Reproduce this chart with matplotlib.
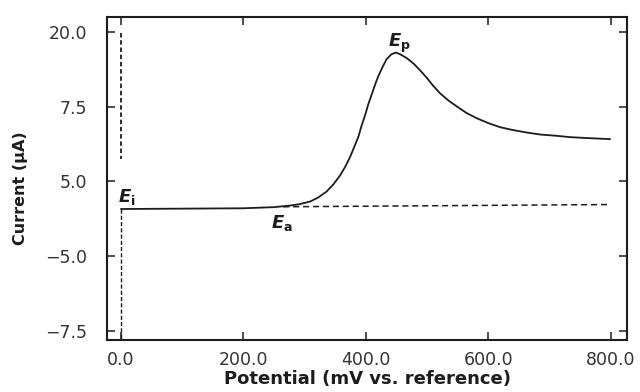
import matplotlib
matplotlib.use("Agg")
import matplotlib.pyplot as plt

# Linear sweep voltammogram: forward scan current vs. applied potential
potential_mv = [0, 100, 200, 250, 276, 292, 309, 322, 336, 347, 358, 366, 374,
                381, 388, 393, 399, 404, 410, 415, 420, 428, 434, 442, 449, 456,
                467, 478, 489, 500, 510, 521, 535, 549, 565, 581, 600, 619, 641,
                663, 685, 712, 734, 755, 777, 799]
current = [1.63, 1.635, 1.64, 1.655, 1.676, 1.695, 1.73, 1.783, 1.864, 1.96,
           2.08, 2.19, 2.32, 2.458, 2.60, 2.742, 2.89, 3.03, 3.17, 3.29,
           3.40, 3.54, 3.635, 3.70, 3.723, 3.70, 3.648, 3.575, 3.482, 3.381,
           3.278, 3.18, 3.081, 3.00, 2.912, 2.845, 2.779, 2.725, 2.685, 2.653,
           2.626, 2.609, 2.591, 2.582, 2.573, 2.565]

# Extrapolated background (charging) current
baseline_mv = [265, 800]
baseline_current = [1.66, 1.69]

# Potential step at the start of the sweep
step_upper = [3.99, 2.30]
step_lower = [1.63, -0.12]

x_ticks = [0, 200, 400, 600, 800]
x_tick_labels = ["0.0", "200.0", "400.0", "600.0", "800.0"]
y_ticks = [0, 1, 2, 3, 4]
y_tick_labels = ["\u22127.5", "\u22125.0", "5.0", "7.5", "20.0"]

plt.rcParams["font.family"] = ["DejaVu Sans"]
plt.rcParams["mathtext.fontset"] = "custom"
plt.rcParams["mathtext.it"] = "DejaVu Sans:italic:bold"
plt.rcParams["mathtext.rm"] = "DejaVu Sans:bold"

ink = "#1c1c1c"
fig = plt.figure(figsize=(6.4, 3.92), dpi=100)
ax = fig.add_axes([0.167, 0.133, 0.813, 0.824])

ax.plot(potential_mv, current, color=ink, lw=1.3, solid_capstyle="round",
        solid_joinstyle="round")
ax.plot(baseline_mv, baseline_current, color=ink, lw=1.1, ls=(0, (4, 2.5)))
ax.plot([0, 0], step_upper, color=ink, lw=1.3, ls=(0, (2.5, 1.5)))
ax.plot([0, 0], step_lower, color=ink, lw=1.0, ls=(0, (3, 1.5)))

ax.text(10, 1.79, r"$E_{\mathrm{i}}$", fontsize=13, ha="center", va="center", color=ink)
ax.text(263, 1.445, r"$E_{\mathrm{a}}$", fontsize=13, ha="center", va="center", color=ink)
ax.text(454, 3.85, r"$E_{\mathrm{p}}$", fontsize=13, ha="center", va="center", color=ink)

ax.set_xlim(-23, 827)
ax.set_ylim(-0.12, 4.2)
ax.set_xticks(x_ticks)
ax.set_xticklabels(x_tick_labels)
ax.set_yticks(y_ticks)
ax.set_yticklabels(y_tick_labels)

ax.tick_params(axis="both", direction="in", length=6, width=1.1, colors=ink,
               labelsize=12.5, labelcolor="#333333", top=True, right=True)
ax.tick_params(axis="x", pad=8)
ax.tick_params(axis="y", pad=14)
for s in ax.spines.values():
    s.set_linewidth(1.5)
    s.set_color(ink)

ax.set_xlabel("Potential (mV vs. reference)", fontsize=13, fontweight="bold",
              color=ink, labelpad=1)
ax.set_ylabel("Current (\u03bcA)", fontsize=11.5, fontweight="bold", color=ink,
              labelpad=12)
ax.yaxis.set_label_coords(-0.152, 0.47)

fig.savefig("out.png", dpi=100)
